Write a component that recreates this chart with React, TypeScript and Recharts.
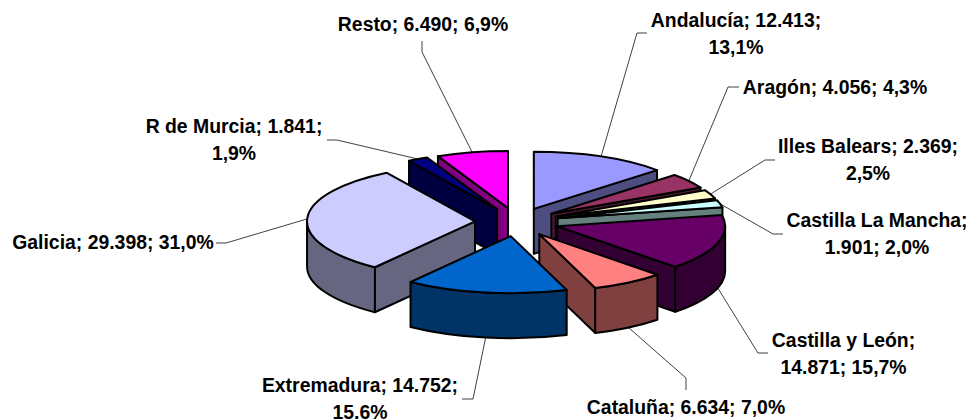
import React from 'react';
import { PieChart, Pie } from 'recharts';

const REGIONS = [
  'Andalucía', 'Aragón', 'Illes Balears', 'Castilla La Mancha', 'Castilla y León',
  'Cataluña', 'Extremadura', 'Galicia', 'R de Murcia', 'Resto',
];
const VALUES = [12413, 4056, 2369, 1901, 14871, 6634, 14752, 29398, 1841, 6490];
const TOP_COLORS = [
  '#9999FF', '#993366', '#FFFFCC', '#CCFFFF', '#660066',
  '#FF8080', '#0066CC', '#CCCCFF', '#000080', '#FF00FF',
];
const SIDE_COLORS = [
  '#4D4D80', '#4D1A33', '#808066', '#668080', '#330033',
  '#804040', '#003366', '#666680', '#000040', '#800080',
];
// label text, one entry per line
const LABEL_LINES = [
  ['Andalucía; 12.413;', '13,1%'],
  ['Aragón; 4.056; 4,3%'],
  ['Illes Balears; 2.369;', '2,5%'],
  ['Castilla La Mancha;', '1.901; 2,0%'],
  ['Castilla y León;', '14.871; 15,7%'],
  ['Cataluña; 6.634; 7,0%'],
  ['Extremadura; 14.752;', '15,6%'],
  ['Galicia; 29.398; 31,0%'],
  ['R de Murcia; 1.841;', '1,9%'],
  ['Resto; 6.490; 6,9%'],
];
// text centre + first baseline
const LABEL_POS = [
  [736, 27], [835, 94], [868, 153], [877, 227], [843.5, 347],
  [686, 414], [360, 392], [113, 249], [234, 133], [423, 31],
];
// leader line bend points, the last point comes from the slice itself
const LEADERS = [
  [[647, 33], [637, 33]],
  [[739, 87], [728, 87]],
  [[775, 160], [765, 160]],
  [[783, 234], [773, 234]],
  [[768, 353], [758, 353]],
  [[686, 390], [686, 378]],
  [[462, 399], [473, 399]],
  [[216, 243], [226, 243]],
  [[327, 140], [337, 140]],
  [[422, 41], [422, 52]],
];
// back slices first so the front ones cover them
const PAINT_ORDER = [0, 9, 8, 1, 2, 3, 7, 4, 5, 6];

const WIDTH = 972;
const HEIGHT = 419;
const CX = 517;
const CY = 222;
const RADIUS = 168;
const SQUASH = 0.34;
const DEPTH = 45;
const EXPLODE = 42;

const rows = REGIONS.map((name, i) => ({ name, value: VALUES[i], idx: i }));

const rad = (deg: number) => (deg * Math.PI) / 180;

// a = degrees clockwise from 12 o'clock
function project(ox: number, oy: number, r: number, a: number) {
  return { x: ox + r * Math.sin(rad(a)), y: oy - SQUASH * r * Math.cos(rad(a)) };
}

function apex(cx: number, cy: number, a: number) {
  return project(cx, cy, EXPLODE, a);
}

function Slice(props: any) {
  const { cx, cy, startAngle, endAngle, outerRadius, payload } = props;
  const idx = payload?.idx ?? props.idx;
  const a1 = 90 - startAngle;
  const a2 = 90 - endAngle;
  const mid = (a1 + a2) / 2;
  const o = apex(cx, cy, mid);
  const r = outerRadius;
  const ry = r * SQUASH;
  const p1 = project(o.x, o.y, r, a1);
  const p2 = project(o.x, o.y, r, a2);
  const large = a2 - a1 > 180 ? 1 : 0;
  const top = `M${o.x},${o.y} L${p1.x},${p1.y} A${r},${ry} 0 ${large} 1 ${p2.x},${p2.y} Z`;
  const side = SIDE_COLORS[idx];
  const stroke = { stroke: '#000', strokeWidth: 2, strokeLinejoin: 'round' as const };

  const m = project(0, 0, r * 0.6, mid);
  const walls = [p1, p2].map((p, i) => {
    const dx = p.x - o.x;
    const dy = p.y - o.y;
    if (Math.abs(dx) < 0.5) return null;
    const cross = dx * m.y - dy * m.x;
    if (Math.sign(dx) * cross >= 0) return null; // interior is below the edge, wall hidden
    return (
      <path
        key={i}
        d={`M${o.x},${o.y} L${p.x},${p.y} L${p.x},${p.y + DEPTH} L${o.x},${o.y + DEPTH} Z`}
        fill={side}
        {...stroke}
      />
    );
  });

  // outer wall only where the rim faces the viewer
  const from = Math.max(a1, 90);
  const to = Math.min(a2, 270);
  let rim = null;
  if (to > from) {
    const q1 = project(o.x, o.y, r, from);
    const q2 = project(o.x, o.y, r, to);
    rim = (
      <path
        d={`M${q1.x},${q1.y} A${r},${ry} 0 0 1 ${q2.x},${q2.y} L${q2.x},${q2.y + DEPTH} A${r},${ry} 0 0 0 ${q1.x},${q1.y + DEPTH} Z`}
        fill={side}
        {...stroke}
      />
    );
  }

  return (
    <g>
      {walls}
      {rim}
      <path d={top} fill={TOP_COLORS[idx]} {...stroke} />
    </g>
  );
}

function SliceLabel(props: any) {
  const { cx, cy, midAngle, outerRadius, index } = props;
  const mid = 90 - midAngle;
  const o = apex(cx, cy, mid);
  const edge = project(o.x, o.y, outerRadius, mid);
  const front = Math.cos(rad(mid)) < 0;
  const end = { x: edge.x, y: front ? edge.y + DEPTH : edge.y };
  const pts = [...LEADERS[index], [end.x, end.y]].map(p => p.join(',')).join(' ');
  const [tx, ty] = LABEL_POS[index];
  return (
    <g>
      <polyline points={pts} fill="none" stroke="#000" strokeWidth={0.75} />
      <text
        x={tx}
        y={ty}
        textAnchor="middle"
        fontFamily="'Liberation Sans', Arial, sans-serif"
        fontWeight="bold"
        fontSize={19.4}
        fill="#000"
      >
        {LABEL_LINES[index].map((line, i) => (
          <tspan key={i} x={tx} dy={i === 0 ? 0 : 26.5}>{line}</tspan>
        ))}
      </text>
    </g>
  );
}

export default function App() {
  const lastPaint = PAINT_ORDER[PAINT_ORDER.length - 1];
  return (
    <div style={{ position: 'absolute', left: 0, top: 0, width: WIDTH, height: HEIGHT, background: '#fff', overflow: 'hidden' }}>
      <PieChart width={WIDTH} height={HEIGHT} margin={{ top: 0, right: 0, bottom: 0, left: 0 }}>
        {PAINT_ORDER.map(which => (
          <Pie
            key={which}
            data={rows}
            dataKey="value"
            nameKey="name"
            cx={CX}
            cy={CY}
            outerRadius={RADIUS}
            startAngle={90}
            endAngle={-270}
            paddingAngle={0}
            isAnimationActive={false}
            labelLine={false}
            label={which === lastPaint ? (p: any) => <SliceLabel {...p} key={p.index} /> : false}
            shape={(p: any) => (p.payload?.idx ?? p.idx) === which ? <Slice {...p} /> : <g />}
          />
        ))}
      </PieChart>
    </div>
  );
}
